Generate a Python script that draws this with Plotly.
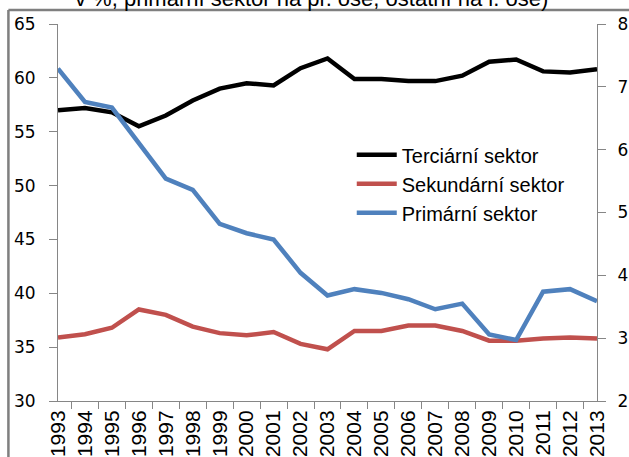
import plotly.graph_objects as go

# rok
years = [str(y) for y in range(1993, 2014)]

# podíl sektorů (terciární a sekundární na levé ose, primární na pravé ose)
terciarni = [57.0, 57.2, 56.8, 55.5, 56.5, 57.9, 59.0, 59.5, 59.3, 60.9, 61.8,
             59.9, 59.9, 59.7, 59.7, 60.2, 61.5, 61.7, 60.6, 60.5, 60.8]
sekundarni = [35.9, 36.2, 36.8, 38.5, 38.0, 36.9, 36.3, 36.1, 36.4, 35.3, 34.8,
              36.5, 36.5, 37.0, 37.0, 36.5, 35.6, 35.6, 35.8, 35.9, 35.8]
primarni = [7.29, 6.76, 6.67, 6.10, 5.54, 5.36, 4.82, 4.67, 4.57, 4.04, 3.68,
            3.78, 3.72, 3.62, 3.46, 3.55, 3.06, 2.97, 3.74, 3.78, 3.59]

left_ticks = [30, 35, 40, 45, 50, 55, 60, 65]
right_ticks = [2, 3, 4, 5, 6, 7, 8]

FONT = "Liberation Sans, Arial, sans-serif"
WIDE_FONT = "DejaVu Sans, sans-serif"
AXIS_GREY = "#868686"
FRAME_GREY = "#7f7f7f"

fig = go.Figure()
fig.add_trace(go.Scatter(x=years, y=terciarni, mode="lines", name="Terciární sektor",
                         line=dict(color="#000000", width=4.5)))
fig.add_trace(go.Scatter(x=years, y=sekundarni, mode="lines", name="Sekundární sektor",
                         line=dict(color="#C0504D", width=4.5)))
fig.add_trace(go.Scatter(x=years, y=primarni, mode="lines", name="Primární sektor",
                         line=dict(color="#4F81BD", width=4.5), yaxis="y2"))

fig.update_layout(
    width=629,
    height=457,
    margin=dict(l=58, r=32, t=24, b=56, autoexpand=False),
    plot_bgcolor="white",
    paper_bgcolor="white",
    font=dict(family=FONT, size=17, color="#000000"),
    showlegend=True,
    legend=dict(
        x=0.545, y=0.705, xanchor="left", yanchor="top",
        bgcolor="rgba(0,0,0,0)",
        font=dict(family=FONT, size=20),
        tracegroupgap=0,
        itemwidth=40,
    ),
    xaxis=dict(
        type="category",
        tickangle=-90,
        tickson="boundaries",
        ticks="outside",
        ticklen=7,
        tickcolor=AXIS_GREY,
        showline=True,
        linecolor=AXIS_GREY,
        linewidth=1,
        showgrid=False,
        automargin=False,
        tickfont=dict(family=FONT, size=21),
    ),
    yaxis=dict(
        range=[30, 65],
        tickvals=left_ticks,
        ticks="outside",
        ticklen=8,
        ticklabelstandoff=10,
        tickcolor=AXIS_GREY,
        showline=True,
        linecolor=AXIS_GREY,
        showgrid=False,
        zeroline=False,
        automargin=False,
        tickfont=dict(family=WIDE_FONT, size=17),
    ),
    yaxis2=dict(
        range=[2, 8],
        tickvals=right_ticks,
        overlaying="y",
        side="right",
        ticks="outside",
        ticklen=8,
        ticklabelstandoff=8,
        tickcolor=AXIS_GREY,
        showline=True,
        linecolor=AXIS_GREY,
        showgrid=False,
        zeroline=False,
        automargin=False,
        tickfont=dict(family=WIDE_FONT, size=17),
    ),
)

# ořezaný nadpis nad rámečkem
fig.add_annotation(
    text="v %, primární sektor na pr. ose, ostatní na l. ose)",
    xref="paper", yref="paper", x=0.47, y=1.0318,
    xanchor="center", yanchor="bottom",
    showarrow=False, borderpad=0,
    font=dict(family=FONT, size=22, color="#000000"),
)

# rámeček grafu (přesahuje pravý a dolní okraj)
fig.add_shape(type="line", xref="paper", yref="paper",
              x0=-0.092, x1=1.1, y0=1.037, y1=1.037,
              line=dict(color=FRAME_GREY, width=2.5))
fig.add_shape(type="line", xref="paper", yref="paper",
              x0=-0.092, x1=-0.092, y0=1.037, y1=-0.2,
              line=dict(color=FRAME_GREY, width=2.5))

fig.write_html("out.html", config={"displayModeBar": False},
               post_script="document.body.style.margin = '0';")
